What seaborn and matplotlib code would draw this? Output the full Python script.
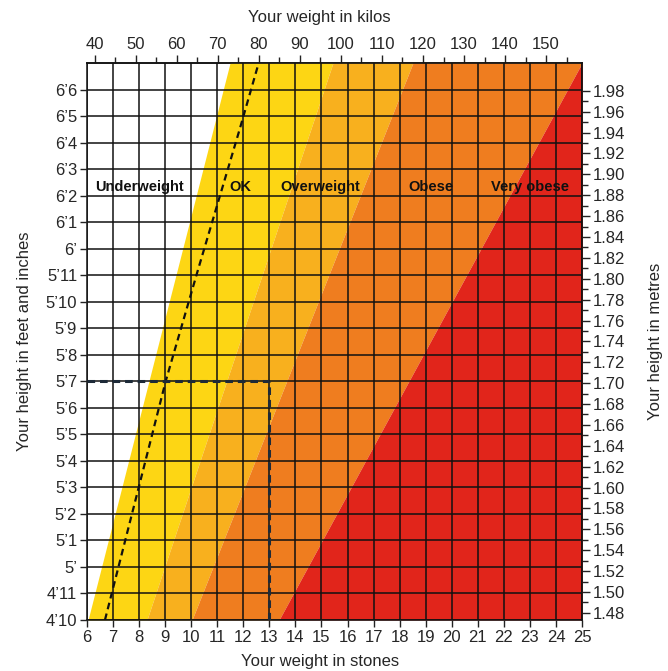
import seaborn as sns
import matplotlib.pyplot as plt
from matplotlib.ticker import FixedLocator, MultipleLocator

# axis values
stone_ticks = [6, 7, 8, 9, 10, 11, 12, 13, 14, 15, 16, 17, 18, 19, 20, 21, 22, 23, 24, 25]
height_inches = [58, 59, 60, 61, 62, 63, 64, 65, 66, 67, 68, 69, 70, 71, 72, 73, 74, 75, 76, 77, 78]
height_labels = ["4\u201910", "4\u201911", "5\u2019", "5\u20191", "5\u20192", "5\u20193", "5\u20194",
                 "5\u20195", "5\u20196", "5\u20197", "5\u20198", "5\u20199", "5\u201910", "5\u201911",
                 "6\u2019", "6\u20191", "6\u20192", "6\u20193", "6\u20194", "6\u20195", "6\u20196"]
kilo_ticks = [40, 50, 60, 70, 80, 90, 100, 110, 120, 130, 140, 150]
metre_ticks = [1.48, 1.50, 1.52, 1.54, 1.56, 1.58, 1.60, 1.62, 1.64, 1.66, 1.68, 1.70, 1.72,
               1.74, 1.76, 1.78, 1.80, 1.82, 1.84, 1.86, 1.88, 1.90, 1.92, 1.94, 1.96, 1.98]

# band edges (stones) at the bottom (4'10) and top (6'7) of the chart
edge_heights = [58, 79]
underweight_edge = [6.04, 11.49]
ok_edge = [8.30, 15.44]
overweight_edge = [10.03, 18.51]
obese_edge = [13.37, 25.0]
chart_right = [25, 25]

band_names = ["Underweight", "OK", "Overweight", "Obese", "Very obese"]
band_colors = ["#FDD614", "#F8B01E", "#EF7D1F", "#E1251B"]

# dashed guide line
guide_heights = [58, 62.9, 67, 71.2, 76.5, 79]
guide_stones = [6.69, 7.96, 9.02, 10.26, 11.86, 12.59]

# worked example: 5'7 and 13 stone
example_height = 67
example_stone = 13

KG_PER_STONE = 6.35029
M_PER_INCH = 0.0254

sns.set_theme(style="ticks")
plt.rcParams['font.family'] = ['Liberation Sans', 'DejaVu Sans']

fig, ax = plt.subplots(figsize=(6.68, 6.71), dpi=100)
fig.subplots_adjust(left=0.1302, right=0.8713, bottom=0.0760, top=0.9061)

# coloured bands
ax.fill_betweenx(edge_heights, underweight_edge, ok_edge, color=band_colors[0], lw=0, zorder=1)
ax.fill_betweenx(edge_heights, ok_edge, overweight_edge, color=band_colors[1], lw=0, zorder=1)
ax.fill_betweenx(edge_heights, overweight_edge, obese_edge, color=band_colors[2], lw=0, zorder=1)
ax.fill_betweenx(edge_heights, obese_edge, chart_right, color=band_colors[3], lw=0, zorder=1)

sns.lineplot(x=guide_stones, y=guide_heights, sort=False, color="#111111", lw=1.6,
             linestyle=(0, (3, 2)), ax=ax, zorder=4)
ax.plot([stone_ticks[0], example_stone], [example_height, example_height],
        color="#1d2a38", lw=2.2, linestyle=(0, (2.5, 1.6)), zorder=4)
ax.plot([example_stone, example_stone], [height_inches[0], example_height],
        color="#1d2a38", lw=2.2, linestyle=(0, (2.5, 1.6)), zorder=4)

ax.set_xlim(6, 25)
ax.set_ylim(58, 79)
ax.set_xticks(stone_ticks)
ax.set_yticks(height_inches)
ax.set_yticklabels(height_labels)
ax.grid(True, color="#111111", lw=1.1)
ax.set_axisbelow(False)
ax.set_facecolor("white")
ax.tick_params(axis='both', direction='out', length=5, width=1, labelsize=12,
               color="#222222", pad=2)
for sp in ax.spines.values():
    sp.set_visible(True)
    sp.set_color("#111111")
    sp.set_linewidth(1.1)

# band labels
label_y = 74.34
label_x = [8.03, 11.87, 14.94, 19.2, 23.0]
for name, x in zip(band_names, label_x):
    ax.text(x, label_y, name, ha='center', va='center', fontsize=10.5,
            fontweight='bold', color="#111111", zorder=5)

ax.set_xlabel("Your weight in stones", fontsize=12, labelpad=7)
ax.xaxis.label.set_x(0.47)
ax.set_ylabel("Your height in feet and inches", fontsize=12, labelpad=10)

top = ax.secondary_xaxis('top', functions=(lambda s: s * KG_PER_STONE,
                                           lambda k: k / KG_PER_STONE))
top.set_xticks(kilo_ticks)
top.xaxis.set_minor_locator(MultipleLocator(5))
top.tick_params(which='major', direction='out', length=6, width=1, labelsize=12,
                color="#222222", pad=2)
top.tick_params(which='minor', direction='out', length=4, width=1, color="#222222")
top.set_xlabel("Your weight in kilos", fontsize=12, labelpad=11)
top.xaxis.label.set_x(0.47)

right = ax.secondary_yaxis('right', functions=(lambda i: i * M_PER_INCH,
                                               lambda m: m / M_PER_INCH))
right.set_yticks(metre_ticks)
right.set_yticklabels([f"{m:.2f}" for m in metre_ticks])
right.yaxis.set_minor_locator(FixedLocator([m + 0.01 for m in metre_ticks[:-1]]))
right.tick_params(which='major', direction='out', length=6, width=1, labelsize=12,
                  color="#222222", pad=2)
right.tick_params(which='minor', direction='out', length=4, width=1, color="#222222")
right.set_ylabel("Your height in metres", fontsize=12, labelpad=16)

fig.savefig("out.png", dpi=100)
